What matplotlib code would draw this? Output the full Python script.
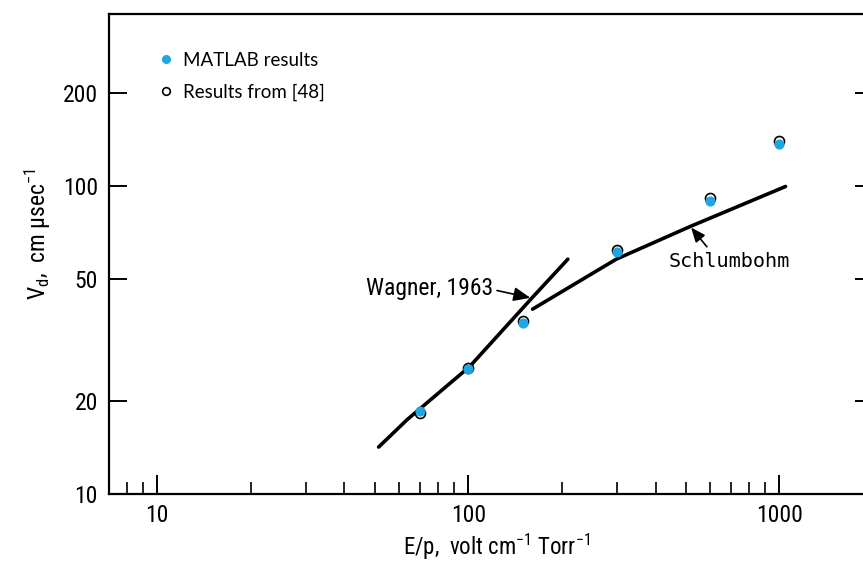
import matplotlib
matplotlib.use('Agg')
import matplotlib.pyplot as plt
from matplotlib.ticker import FixedLocator, NullFormatter, FixedFormatter

# drift velocity vs E/p
ep_points = [70, 100, 150, 300, 600, 1000]
vd_matlab = [18.6, 25.5, 36.0, 61, 89, 137]
vd_ref48 = [18.3, 25.7, 36.3, 62, 91, 140]

# curves from the literature
wagner_ep = [51.5, 63.5, 101, 160, 209]
wagner_vd = [14.2, 17.4, 25.9, 43.2, 57.8]
schl_ep = [161, 299, 517, 1047]
schl_vd = [39.8, 57.8, 73.8, 99.5]

y_ticks = [10, 20, 50, 100, 200]
x_major = [10, 100, 1000]
x_minor = [8, 9, 20, 30, 40, 50, 60, 70, 80, 90,
           200, 300, 400, 500, 600, 700, 800, 900]

plt.rcParams['mathtext.default'] = 'regular'
scan_font = ['Roboto Condensed', 'DejaVu Sans']

fig = plt.figure(figsize=(8.63, 5.63), dpi=100)
ax = fig.add_axes([109 / 863, 69 / 563, 764 / 863, 480 / 563])
ax.set_xscale('log')
ax.set_yscale('log')
ax.set_xlim(7.0, 2000)
ax.set_ylim(10, 361)

for s in ax.spines.values():
    s.set_linewidth(1.6)

ax.plot(wagner_ep, wagner_vd, color='black', lw=2.6, solid_capstyle='round')
ax.plot(schl_ep, schl_vd, color='black', lw=2.6, solid_capstyle='round')

ax.plot(ep_points, vd_ref48, 'o', ms=7.2, mfc='white', mec='black', mew=1.2,
        ls='none', label='Results from [48]')
ax.plot(ep_points, vd_matlab, 'o', ms=6.3, mfc='#1ea5e2', mec='#1ea5e2',
        ls='none', label='MATLAB results')

ax.annotate('Wagner, 1963', xy=(wagner_ep[3], wagner_vd[3]),
            xytext=(-28, 7), textcoords='offset points', ha='right', va='center',
            fontsize=17, family=scan_font, stretch='condensed',
            arrowprops=dict(arrowstyle='-|>,head_length=0.6,head_width=0.25',
                            color='black', lw=1.2, shrinkA=1, shrinkB=1,
                            relpos=(1.0, 0.45)))
ax.annotate('Schlumbohm', xy=(schl_ep[2], schl_vd[2]),
            xytext=(28, -25), textcoords='offset points', ha='center', va='center',
            fontsize=14.5, family='DejaVu Sans Mono',
            arrowprops=dict(arrowstyle='-|>,head_length=0.6,head_width=0.25',
                            color='black', lw=1.2, shrinkA=2, shrinkB=1,
                            relpos=(0.35, 1.0)))

# ticks
ax.xaxis.set_major_locator(FixedLocator(x_major))
ax.xaxis.set_major_formatter(FixedFormatter([str(v) for v in x_major]))
ax.xaxis.set_minor_locator(FixedLocator(x_minor))
ax.xaxis.set_minor_formatter(NullFormatter())
ax.yaxis.set_major_locator(FixedLocator(y_ticks))
ax.yaxis.set_major_formatter(FixedFormatter([str(v) for v in y_ticks]))
ax.yaxis.set_minor_locator(FixedLocator([]))
ax.tick_params(axis='x', which='major', direction='in', length=14, width=1.4,
               top=False, pad=7)
ax.tick_params(axis='x', which='minor', direction='in', length=9, width=1.2,
               top=False)
ax.tick_params(axis='y', which='major', direction='in', length=13, width=1.4,
               left=True, right=True, pad=8)
for lab in ax.get_xticklabels() + ax.get_yticklabels():
    lab.set_family(scan_font)
    lab.set_stretch('condensed')
    lab.set_fontsize(17)

fig.text(497 / 863, 1 - 555 / 563, r'E/p,  volt cm$^{-1}$ Torr$^{-1}$',
         ha='center', va='baseline', fontsize=16.5, family=scan_font,
         stretch='condensed')
fig.text(38 / 863, 1 - 234 / 563, r'V$_{d}$,  cm μsec$^{-1}$', rotation=90,
         ha='center', va='center', fontsize=17, family=scan_font,
         stretch='condensed')

handles, labels = ax.get_legend_handles_labels()
leg = ax.legend(handles[::-1], labels[::-1], loc='upper left',
                bbox_to_anchor=(0.0525, 0.941), frameon=False,
                handlelength=0.8, handletextpad=0.5, labelspacing=0.81,
                borderpad=0, prop={'family': 'Lato', 'size': 13.5})
for h in leg.legend_handles:
    h.set_markersize(5.5)

fig.savefig('out.png', dpi=100)
